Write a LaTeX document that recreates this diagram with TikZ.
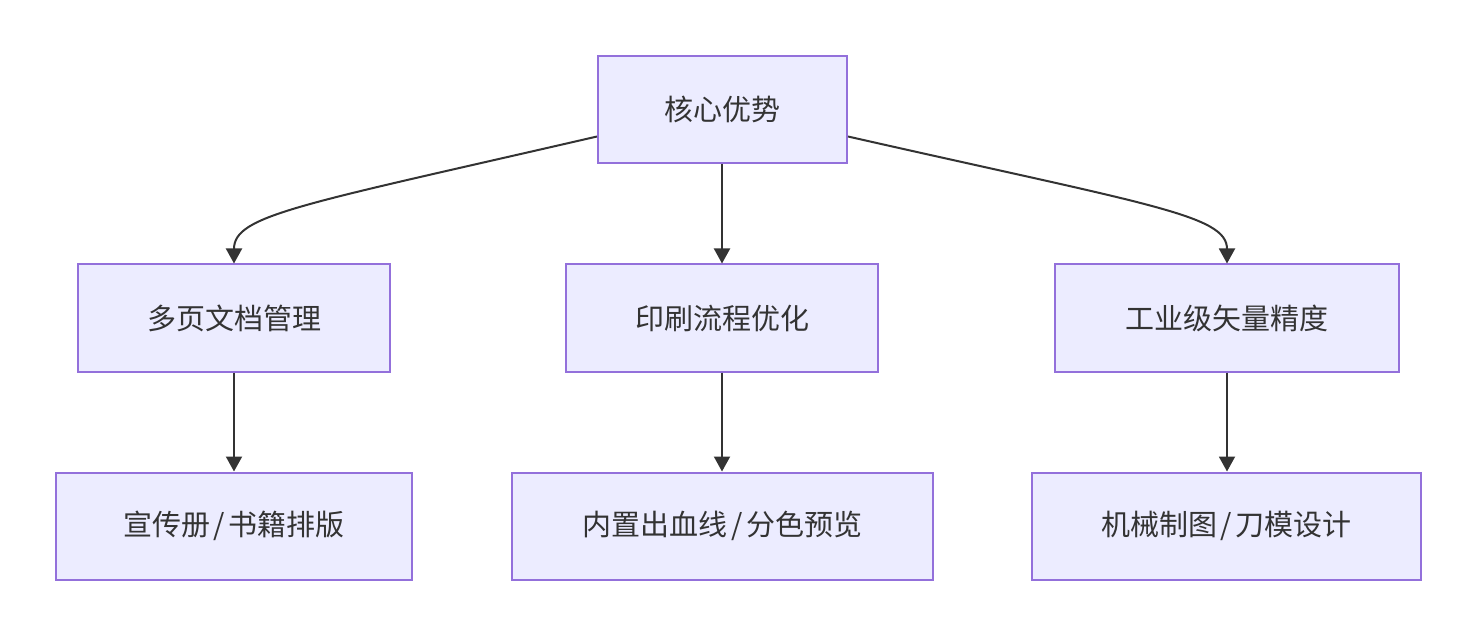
\documentclass[tikz,border=0pt]{standalone}
\usepackage{fontspec}
\setmainfont{Noto Sans CJK SC}
\usetikzlibrary{arrows.meta}
\definecolor{nodefill}{HTML}{ECECFF}
\definecolor{nodeborder}{HTML}{9370DB}
\definecolor{ink}{HTML}{333333}
\newcommand{\slashsep}{\hspace{3.5pt}/\hspace{3.5pt}}
\tikzset{
  box/.style={draw=nodeborder, fill=nodefill, line width=2pt, text=ink,
    font=\fontsize{29}{34}\selectfont, minimum height=107pt, inner sep=0pt},
  conn/.style={draw=ink, line width=2pt, -{Triangle[length=15pt,width=16pt]}}
}
\begin{document}
\begin{tikzpicture}[x=1pt,y=-1pt]
\useasboundingbox (0,0) rectangle (1477,636);
\node[box, minimum width=249pt] (root) at (722.5,109.5) {核心优势};
\node[box, minimum width=312pt] (a) at (234,318) {多页文档管理};
\node[box, minimum width=312pt] (b) at (722,318) {印刷流程优化};
\node[box, minimum width=344pt] (c) at (1227,318) {工业级矢量精度};
\node[box, minimum width=356pt] (a2) at (234,526) {宣传册\slashsep 书籍排版};
\node[box, minimum width=421pt] (b2) at (722.5,526) {内置出血线\slashsep 分色预览};
\node[box, minimum width=389pt] (c2) at (1226.5,526) {机械制图\slashsep 刀模设计};
\coordinate (rl) at ([yshift=-27pt]root.west);
\coordinate (rr) at ([yshift=-27pt]root.east);
\draw[conn] (rl) .. controls (300,205) and (234,215) .. (a.north);
\draw[conn] (rr) .. controls (1150,205) and (1227,215) .. (c.north);
\draw[conn] (root.south -| b.north) -- (b.north);
\draw[conn] (a.south) -- (a2.north);
\draw[conn] (b.south) -- (b.south |- b2.north);
\draw[conn] (c.south) -- (c.south |- c2.north);
\end{tikzpicture}
\end{document}
